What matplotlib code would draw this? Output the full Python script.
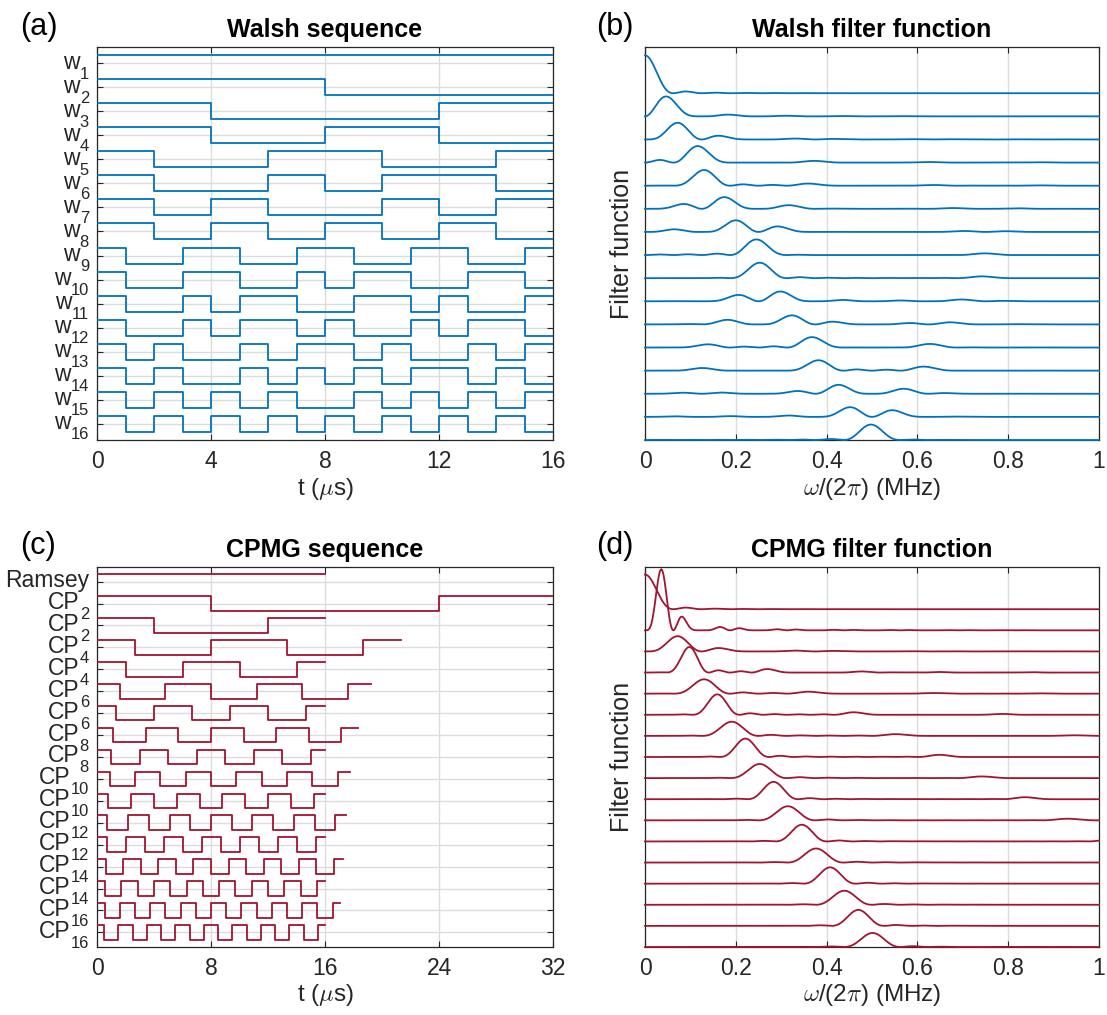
import numpy as np
import matplotlib
matplotlib.use("Agg")
import matplotlib.pyplot as plt
from matplotlib.transforms import ScaledTranslation

plt.rcParams['font.family'] = ['Liberation Sans', 'DejaVu Sans']
plt.rcParams['mathtext.fontset'] = 'cm'

# ---------------- data ----------------
# Walsh sequences (a): sign in each 1-us slot over 0..16 us
walsh_numbers = [str(i) for i in range(1, 17)]
walsh_signs = [
    "++++++++++++++++",
    "++++++++--------",
    "++++--------++++",
    "++++----++++----",
    "++----++++----++",
    "++----++--++++--",
    "++--++----++--++",
    "++--++--++--++--",
    "+--++--++--++--+",
    "+--++--+-++--++-",
    "+--+-++--++-+--+",
    "+--+-++-+--+-++-",
    "+-+--+-++-+--+-+",
    "+-+--+-+-+-++-+-",
    "+-+-+-+--+-+-+-+",
    "+-+-+-+-+-+-+-+-",
]
walsh_slot = 1.0  # us

# CPMG sequences (c): label, number of pi pulses, total duration (us)
cp_names = ["Ramsey"] + ["CP"] * 16
cp_numbers = ["", "2", "2", "4", "4", "6", "6", "8", "8",
              "10", "10", "12", "12", "14", "14", "16", "16"]
cp_pulses = [0, 2, 2, 4, 4, 6, 6, 8, 8, 10, 10, 12, 12, 14, 14, 16, 16]
cp_total = [16, 32, 16, 21.33, 16, 19.2, 16, 18.29, 16,
            17.78, 16, 17.45, 16, 17.23, 16, 17.07, 16]

freq_mhz = np.linspace(0, 1, 2001)

# ---------------- style ----------------
BLUE = (0.0, 0.447, 0.741)
RED = (0.635, 0.078, 0.184)
AXC = '#262626'
GRIDC = '#dcdcdc'
TICKFS = 16.5
ROWFS = 16.5
LABFS = 17.5
YLABFS = 18
TITFS = 18
AMP = 1.0 / 3.0
FF_SCALE = 1.64 / 256.0
LW = 1.3


def walsh_edges(signs):
    n = len(signs)
    edges = np.arange(n + 1) * walsh_slot
    vals = np.array([1.0 if c == '+' else -1.0 for c in signs])
    return edges, vals


def cpmg_edges(n, T):
    if n == 0:
        return np.array([0.0, T]), np.array([1.0])
    tau = T / n
    pulses = [tau * (j + 0.5) for j in range(n)]
    edges = np.array([0.0] + pulses + [T])
    vals = np.array([(-1.0) ** j for j in range(n + 1)])
    return edges, vals


def filter_function(edges, vals):
    w = 2 * np.pi * freq_mhz
    w = np.where(w == 0, 1e-9, w)
    acc = np.zeros_like(w, dtype=complex)
    for a, b, s in zip(edges[:-1], edges[1:], vals):
        acc += s * (np.exp(1j * w * b) - np.exp(1j * w * a)) / (1j * w)
    return np.abs(acc) ** 2


fig = plt.figure(figsize=(11.07, 10.15), dpi=100)
W, H = 1107.0, 1015.0


def px_axes(l, t, r, b):
    return fig.add_axes([l / W, 1 - b / H, (r - l) / W, (b - t) / H])


ax_a = px_axes(97, 47, 553, 440)
ax_b = px_axes(645, 47, 1099, 440)
ax_c = px_axes(97, 567, 553, 947)
ax_d = px_axes(645, 567, 1099, 947)

for ax in (ax_a, ax_b, ax_c, ax_d):
    ax.set_axisbelow(True)
    for sp in ax.spines.values():
        sp.set_color(AXC)
        sp.set_linewidth(0.9)
    ax.tick_params(direction='in', top=True, right=True, length=4.5,
                   width=0.8, colors=AXC, labelsize=TICKFS, pad=7)
    ax.grid(True, color=GRIDC, linewidth=1.0)


def seq_panel(ax, seq_list, color, xmax, xticks, names, numbers, title):
    n = len(seq_list)
    for k, (edges, vals) in enumerate(seq_list, start=1):
        yv = k - AMP * np.append(vals, vals[-1])
        ax.plot(edges, yv, drawstyle='steps-post', color=color, lw=LW,
                zorder=3)
    ax.set_xlim(0, xmax)
    ax.set_xticks(xticks)
    ax.set_xticklabels([str(v) for v in xticks])
    ax.set_ylim(n + 2 * AMP, 1 - 2 * AMP)
    ax.set_yticks(np.arange(1, n + 1))
    ax.set_yticklabels([])
    ax.set_xlabel(r't ($\mu$s)', fontsize=LABFS, color=AXC, labelpad=2)
    ax.set_title(title, fontsize=TITFS, fontweight='bold', pad=7)
    # row labels: name with a lowered index, MATLAB style
    renderer = fig.canvas.get_renderer()
    base = ax.get_yaxis_transform()
    gap = 8.0
    for k, (nm, num) in enumerate(zip(names, numbers), start=1):
        wsub = 0.0
        if num:
            t = ax.text(0, k, num, fontsize=ROWFS * 0.72, color=AXC,
                        ha='right', va='baseline',
                        transform=base + ScaledTranslation(
                            -gap / 100, -15.5 / 100, fig.dpi_scale_trans))
            wsub = t.get_window_extent(renderer).width + 0.5
        ax.text(0, k, nm, fontsize=ROWFS, color=AXC, ha='right',
                va='baseline',
                transform=base + ScaledTranslation(
                    -(gap + wsub) / 100, -5.5 / 100, fig.dpi_scale_trans))


def ff_panel(ax, seq_list, color, title):
    n = len(seq_list)
    for i, (edges, vals) in enumerate(seq_list):
        F = filter_function(edges, vals)
        ax.plot(freq_mhz, (n - 1 - i) + F * FF_SCALE, color=color, lw=LW,
                zorder=3, clip_on=False)
    ax.set_xlim(0, 1)
    ax.set_xticks([0, 0.2, 0.4, 0.6, 0.8, 1])
    ax.set_xticklabels(['0', '0.2', '0.4', '0.6', '0.8', '1'])
    ax.set_ylim(0, n + 1)
    ax.set_yticks([])
    ax.grid(False, axis='y')
    ax.set_xlabel(r'$\omega$/(2$\pi$) (MHz)', fontsize=LABFS, color=AXC,
                  labelpad=2)
    ax.set_ylabel('Filter function', fontsize=YLABFS, color=AXC, labelpad=8)
    ax.set_title(title, fontsize=TITFS, fontweight='bold', pad=7)


walsh_list = [walsh_edges(s) for s in walsh_signs]
cp_list = [cpmg_edges(n, T) for n, T in zip(cp_pulses, cp_total)]

seq_panel(ax_a, walsh_list, BLUE, 16, [0, 4, 8, 12, 16],
          ['w'] * 16, walsh_numbers, 'Walsh sequence')
ff_panel(ax_b, walsh_list, BLUE, 'Walsh filter function')
seq_panel(ax_c, cp_list, RED, 32, [0, 8, 16, 24, 32],
          cp_names, cp_numbers, 'CPMG sequence')
ff_panel(ax_d, cp_list, RED, 'CPMG filter function')

for lab, x, y in (('(a)', 20, 35), ('(b)', 596, 35),
                  ('(c)', 20, 554), ('(d)', 596, 554)):
    fig.text(x / W, 1 - y / H, lab, fontsize=22, color='black',
             ha='left', va='baseline')

fig.savefig('out.png', dpi=100)
